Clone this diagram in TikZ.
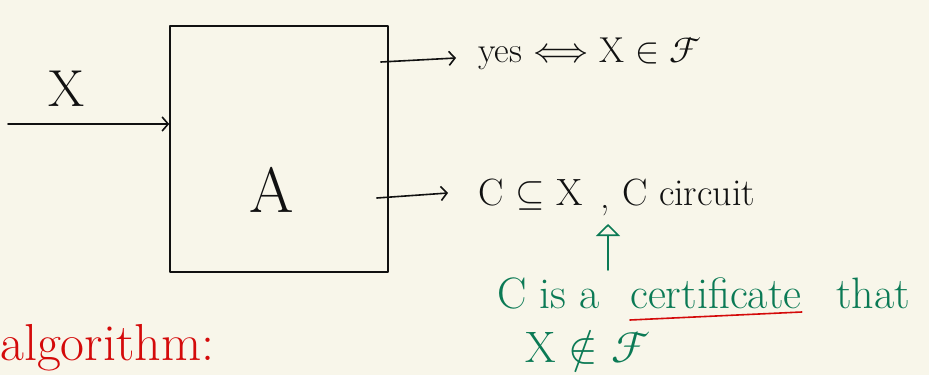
\documentclass[tikz,border=0pt]{standalone}
\usepackage{fontspec}
\usepackage{unicode-math}
\setmathfont{Latin Modern Math}
\usetikzlibrary{arrows.meta}
\definecolor{paper}{HTML}{F8F6EA}
\definecolor{ink}{HTML}{111111}
\definecolor{pengreen}{HTML}{0B7A55}
\definecolor{penred}{HTML}{D40A0A}
\tikzset{
  pen/.style={line width=1.6pt, line cap=round, line join=round, draw=ink},
  tip/.style={-{Straight Barb[length=6pt,width=14pt,line width=1.6pt]}},
  gtip/.style={-{Triangle[open,length=12pt,width=24pt,line width=1.6pt]}},
  txt/.style={inner sep=0pt, anchor=base west, text=ink},
  sz/.style={font=\fontsize{#1}{#1}\selectfont},
}
\begin{document}
\begin{tikzpicture}[x=1pt,y=-1pt]
\fill[paper] (0,0) rectangle (929,375);
\useasboundingbox (0,0) rectangle (929,375);
\clip (0,0) rectangle (929,375);

% box
\node[pen, draw, minimum width=218pt, minimum height=246pt, inner sep=0pt] (A) at (279,149) {};
\node[txt, anchor=center, sz=64] (lblA) at (272,190) {A};

% input
\coordinate (in) at (8,124);
\draw[pen, tip] (in) -- (in -| A.west);
\node[txt, anchor=center, sz=52] (lx) at (67,89) {X};

% output 1
\node[txt, sz=36] (t1) at (478,62) {yes $⟺$ X $∈$ $\mathcal{F}$};
\draw[pen, tip] ([xshift=-8pt]A.east |- 0,62) -- ([xshift=-22pt]t1.west |- 0,58);

% output 2
\node[txt, sz=38] (c1) at (478,205) {C $⊆$ X};
\node[txt, sz=38] (cm) at (600,208) {,};
\node[txt, sz=38] (c2) at (622,205) {C circuit};
\draw[pen, tip] ([xshift=-12pt]A.east |- 0,198) -- ([xshift=-30pt]c1.west |- 0,193);

% green certificate note
\node[txt, sz=44, text=pengreen] (ca) at (497,308) {C is a};
\node[txt, sz=44, text=pengreen] (cb) at (630,308) {certificate};
\node[txt, sz=44, text=pengreen] (cc) at (836,308) {that};
\node[txt, sz=44, text=pengreen] (cx) at (525,362) {X $∉$ $\mathcal{F}$};
\coordinate (gbot) at (608,270);
\coordinate (gtop) at (608,224);
\draw[pen, draw=pengreen, gtip] (gbot) -- (gtop);

% red underline
\draw[pen, draw=penred] ([yshift=-12pt]cb.base west) -- ([yshift=-4pt]cb.base east);

% red heading
\node[txt, sz=52, text=penred] (alg) at (0,360) {algorithm:};
\end{tikzpicture}
\end{document}
